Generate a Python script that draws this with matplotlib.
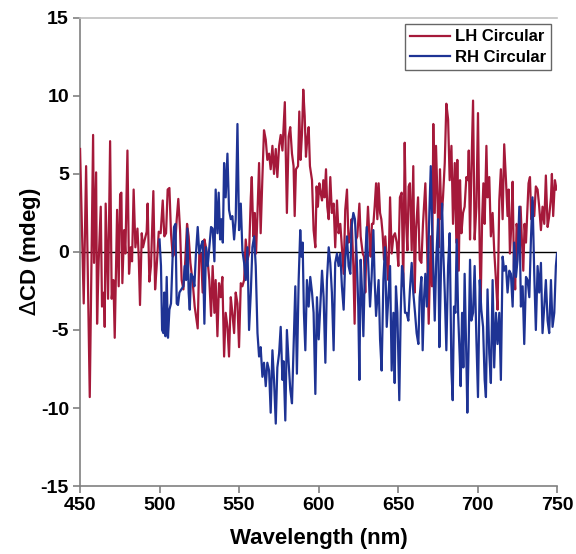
import matplotlib
matplotlib.use("Agg")
import matplotlib.pyplot as plt

plt.rcParams['font.family'] = ['Liberation Sans', 'DejaVu Sans']

lh_wl = [450.0, 452.3, 453.8, 456.1, 458.2, 458.8, 460.1, 460.7, 461.7, 463.0,
         463.8, 465.1, 465.5, 466.1, 467.6, 468.9, 469.9, 471.0, 471.8, 473.3,
         474.3, 475.2, 476.0, 476.6, 477.7, 478.5, 479.8, 480.8, 481.9, 482.7,
         483.7, 484.8, 486.1, 486.9, 487.7, 488.8, 489.6, 490.7, 491.9, 492.5,
         493.6, 494.6, 496.1, 497.2, 498.2, 499.5, 500.7, 502.0, 503.0, 504.1,
         505.1, 506.2, 507.2, 508.3, 509.5, 510.8, 511.8, 512.9, 513.9, 515.0,
         516.0, 517.3, 518.3, 519.4, 520.9, 522.1, 524.0, 525.0, 526.1, 527.1,
         528.2, 529.2, 530.3, 531.3, 532.4, 533.4, 534.5, 535.3, 536.4, 537.4,
         538.5, 539.5, 540.6, 541.6, 542.7, 543.7, 544.8, 545.8, 546.9, 547.9,
         549.0, 550.0, 551.1, 552.1, 553.2, 554.2, 555.3, 556.3, 557.4, 558.0,
         559.0, 559.9, 560.7, 561.6, 562.6, 563.6, 564.7, 565.7, 566.8, 567.8,
         568.9, 569.9, 571.0, 572.0, 573.1, 574.1, 575.2, 576.2, 577.3, 578.8,
         580.1, 581.2, 582.2, 583.3, 584.3, 585.0, 585.8, 587.1, 587.9, 588.7,
         589.6, 590.4, 591.3, 592.1, 592.9, 593.8, 594.6, 595.9, 596.9, 598.0,
         598.8, 599.6, 600.5, 601.3, 602.2, 603.0, 603.8, 604.7, 605.5, 606.4,
         607.4, 608.4, 609.5, 610.5, 611.6, 612.6, 613.7, 614.7, 615.8, 616.8,
         617.9, 618.9, 620.0, 620.8, 621.9, 622.7, 623.6, 624.4, 625.7, 626.5,
         627.8, 628.6, 629.4, 630.3, 631.1, 632.0, 632.8, 633.6, 634.5, 635.3,
         636.2, 637.0, 637.8, 638.7, 639.5, 640.3, 641.2, 642.0, 642.9, 643.9,
         645.0, 646.0, 647.1, 648.1, 649.2, 650.2, 651.2, 652.3, 653.3, 654.2,
         655.0, 655.9, 656.7, 657.5, 658.6, 659.6, 660.5, 661.3, 662.6, 663.6,
         664.7, 665.7, 667.2, 668.3, 669.3, 670.6, 671.4, 672.2, 673.1, 673.9,
         674.8, 675.6, 676.4, 677.3, 678.3, 679.4, 680.4, 681.5, 682.5, 683.6,
         684.6, 685.7, 686.7, 687.3, 688.2, 689.0, 689.9, 690.9, 691.9, 693.0,
         694.0, 694.5, 695.3, 696.1, 697.2, 698.2, 699.3, 700.3, 701.4, 702.0,
         702.9, 703.7, 704.5, 705.6, 706.3, 707.4, 708.4, 709.5, 710.5, 711.6,
         712.6, 713.7, 714.7, 715.8, 716.8, 717.9, 718.9, 719.6, 720.4, 721.2,
         722.1, 722.9, 723.7, 724.6, 725.4, 726.3, 727.1, 727.9, 728.8, 729.6,
         730.5, 731.3, 732.1, 733.0, 733.8, 734.6, 735.7, 736.7, 737.8, 738.8,
         739.9, 740.9, 742.0, 743.0, 744.1, 745.1, 746.2, 746.8, 747.6, 748.7,
         749.7]
lh_cd = [6.6, -3.3, 5.5, -9.3, 7.5, -0.7, 5.1, -4.6, -0.6, 2.9,
         -3.5, -2.6, -4.8, 3.1, -3.0, 7.1, -3.0, -1.8, -5.5, 2.7,
         -2.2, 3.7, 3.8, -2.0, 1.4, -0.1, 6.5, -1.4, 0.3, -0.6,
         4.0, 0.3, 1.5, -0.3, -3.4, 1.2, 0.3, 0.8, 1.3, 3.1,
         -1.9, -0.9, 3.9, -2.4, -0.9, 1.3, 1.2, 3.3, 1.0, 1.2,
         4.0, 4.1, 1.2, -0.3, -0.1, 2.1, 3.4, 1.4, -1.8, -2.4,
         -0.9, 1.8, 1.0, -0.7, -2.0, -3.5, -4.9, -0.1, -0.1, -2.6,
         0.8, 0.3, -0.6, -1.8, -4.1, -0.9, -3.9, -1.8, -5.4, -2.0,
         -2.9, -1.6, -6.7, -3.9, -4.8, -6.7, -2.9, -3.9, -5.2, -2.6,
         -3.3, -6.1, -2.0, -2.2, -1.8, 0.8, -0.5, -0.1, 3.5, 4.8,
         1.0, 2.5, -0.1, 2.5, 5.7, 1.2, 4.8, 7.8, 7.2, 5.9,
         6.3, 5.3, 6.8, 5.0, 6.6, 4.8, 6.8, 7.5, 6.5, 9.6,
         2.5, 7.4, 8.0, 6.3, 5.5, 2.3, 5.3, 5.5, 9.0, 5.9,
         7.6, 10.4, 8.7, 6.1, 7.2, 8.0, 5.5, 4.6, 1.4, 0.3,
         4.2, 2.9, 4.4, 3.8, 3.3, 4.6, 3.5, 5.3, 2.9, 2.1,
         4.8, 2.5, 3.1, 0.3, 3.3, 1.2, 1.8, 0.3, -1.4, 2.7,
         4.0, 0.6, 1.0, 2.1, -0.9, -4.6, 0.8, 1.0, 3.1, 1.0,
         -0.1, -0.3, -2.6, 1.0, 2.9, 1.0, -0.3, 1.8, 1.8, 2.9,
         4.4, 2.1, 4.4, 2.5, 2.1, 1.2, -0.5, 1.0, -0.5, -1.8,
         3.5, -0.1, 1.0, 1.2, 0.6, -0.9, 3.5, 3.8, -2.2, 7.0,
         2.1, 0.1, 4.2, 4.4, 0.1, 5.5, -2.6, 1.4, 3.5, -0.5,
         -0.7, 1.8, 4.4, 0.3, -4.6, 1.0, -2.2, 8.2, 2.5, 6.8,
         3.5, 0.3, 5.3, 2.1, 3.5, 5.7, 9.5, 8.5, 4.6, 6.8,
         1.8, 5.7, 0.6, 5.9, -1.2, 4.6, 1.2, 2.5, 2.9, 4.8,
         4.6, 6.5, 0.8, 5.0, 9.7, 0.8, 2.9, 8.9, -0.1, -3.3,
         2.1, 4.4, 1.8, 6.8, 3.5, 4.8, 1.0, 2.5, 0.1, -1.8,
         -3.7, 3.3, 5.3, 2.1, 6.9, 4.6, 2.3, 4.0, -0.1, 1.6,
         4.5, -0.9, -2.4, 1.8, 1.2, 0.3, 2.9, 0.8, -1.2, 1.8,
         0.6, 2.5, 4.4, 4.8, 2.1, 3.3, 2.3, 4.2, 4.0, 2.9,
         1.4, 2.9, 1.8, 4.9, 1.6, 2.3, 3.5, 5.0, 2.3, 4.6,
         4.0]

rh_wl = [500.0, 500.9, 501.6, 502.4, 503.0, 503.7, 504.5, 505.3, 506.2, 507.2,
         508.3, 509.1, 510.0, 510.8, 511.6, 512.5, 513.7, 515.0, 515.8, 516.7,
         517.5, 518.3, 519.0, 519.8, 520.9, 521.9, 522.9, 524.0, 525.0, 526.1,
         527.1, 528.2, 529.2, 530.3, 531.3, 532.4, 533.4, 534.5, 535.3, 536.4,
         537.2, 538.1, 538.9, 539.8, 540.6, 541.6, 542.7, 543.7, 544.8, 545.8,
         546.9, 547.9, 549.0, 550.0, 551.1, 552.1, 553.2, 554.2, 555.3, 556.3,
         557.4, 558.4, 559.5, 560.5, 561.6, 562.6, 563.6, 564.7, 565.7, 566.8,
         567.8, 568.9, 569.9, 571.0, 572.0, 573.1, 574.1, 575.2, 576.2, 577.3,
         578.0, 579.1, 580.1, 581.2, 582.2, 583.3, 584.3, 585.4, 586.4, 587.5,
         588.5, 589.2, 590.0, 590.8, 591.7, 592.7, 593.8, 594.8, 595.9, 596.9,
         598.0, 599.0, 600.1, 601.1, 602.2, 603.2, 604.3, 605.3, 606.4, 607.4,
         608.4, 609.5, 610.5, 611.6, 612.6, 613.7, 614.7, 615.8, 616.8, 617.9,
         618.9, 620.0, 620.8, 621.9, 622.9, 624.0, 625.0, 625.7, 626.5, 627.3,
         628.2, 629.2, 630.3, 631.3, 632.4, 633.4, 634.5, 635.3, 636.2, 637.0,
         637.8, 638.7, 639.7, 640.8, 641.8, 642.9, 643.9, 645.0, 646.0, 647.1,
         647.9, 648.7, 649.6, 650.8, 651.7, 652.5, 653.3, 654.4, 655.4, 656.5,
         657.5, 658.6, 659.6, 660.7, 661.7, 662.8, 663.6, 664.7, 665.5, 666.4,
         667.2, 668.1, 668.9, 669.7, 670.6, 671.4, 672.2, 673.1, 674.1, 675.2,
         676.0, 676.9, 677.7, 678.5, 679.4, 680.4, 681.5, 682.5, 683.6, 684.4,
         685.2, 686.1, 686.9, 687.8, 688.8, 689.4, 690.3, 691.1, 691.9, 693.0,
         693.6, 694.5, 695.3, 696.1, 697.2, 698.2, 699.3, 700.3, 701.4, 702.4,
         703.5, 704.5, 705.3, 706.3, 707.4, 708.4, 709.5, 710.5, 711.6, 712.6,
         713.7, 714.7, 715.8, 716.8, 717.9, 718.9, 720.0, 721.0, 722.1, 723.1,
         724.2, 725.2, 726.3, 727.3, 728.4, 729.4, 730.5, 731.5, 732.6, 733.6,
         734.6, 735.7, 736.7, 737.8, 738.8, 739.9, 740.9, 742.0, 743.0, 744.1,
         745.1, 746.2, 747.2, 748.3, 749.3, 750.0]
rh_cd = [0.8, -0.9, -5.0, -5.2, -2.6, -5.4, -1.6, -5.5, -3.7, -3.3,
         -0.1, 1.6, 1.8, -3.3, -3.4, -2.6, -2.4, -2.2, -0.9, -1.8,
         1.5, -2.6, -3.7, -1.4, -1.6, -2.2, -0.1, 1.6, -0.1, 0.4,
         0.7, -4.6, 0.3, -0.9, 0.3, 1.6, 1.5, -0.6, 4.0, 1.2,
         3.8, 0.8, 2.1, 0.6, 5.7, 3.5, 6.3, 2.7, 2.1, 2.3,
         0.8, 2.1, 8.2, 1.4, 3.1, 0.1, -0.7, -1.8, 0.3, -5.0,
         -2.6, 0.3, 1.0, -0.9, -5.2, -6.7, -6.1, -8.0, -7.1, -8.6,
         -7.1, -7.6, -10.3, -6.3, -8.2, -11.0, -7.4, -6.5, -4.8, -8.2,
         -7.0, -10.8, -5.0, -7.1, -8.8, -9.7, -6.1, -2.2, -7.8, -1.8,
         1.4, -0.3, 0.6, -3.9, -6.3, -1.8, -3.5, -1.6, -2.6, -3.9,
         -9.1, -2.9, -5.6, -3.5, -1.2, -2.9, -7.1, -1.8, 0.3, -0.7,
         -2.6, -6.3, -0.7, -0.1, -0.9, -0.1, -2.2, -3.7, -0.5, 1.0,
         -0.9, -1.4, 1.6, 2.5, 2.1, -0.3, -3.5, -8.2, -0.5, -2.4,
         -5.4, -0.9, 1.6, -0.9, -3.5, -1.6, 1.4, -1.8, -4.1, -2.9,
         -1.8, -5.6, -7.6, -1.8, 0.3, -4.8, -2.9, -0.9, -7.6, -3.9,
         -8.4, -2.2, -3.9, -9.5, -3.9, -0.9, -1.4, -3.9, -3.9, -4.4,
         -2.4, -0.7, -2.6, -3.9, -5.2, -5.9, -2.9, -1.6, -6.3, -2.9,
         -1.4, -3.5, -0.9, 2.5, 5.5, 1.8, -0.9, -4.4, -0.3, 2.1,
         -6.1, -1.8, 3.1, -0.1, -2.6, -6.3, -0.9, 1.2, -7.6, -9.5,
         -3.5, -3.9, 0.8, -3.9, -6.7, -8.6, -3.9, -7.4, -1.4, -6.9,
         -10.3, -5.6, -0.5, -4.4, -3.9, -0.9, -5.6, -9.3, -1.8, -3.7,
         -4.8, -8.2, -9.3, -2.4, -6.5, -8.4, -1.8, -7.4, -3.9, -5.9,
         -3.9, -8.2, -0.3, -1.2, -0.9, -2.6, -1.2, -1.4, -3.5, 0.6,
         -1.6, -0.5, 2.9, -3.5, -2.2, -5.9, -1.6, -1.8, -2.9, 0.8,
         3.5, -1.4, -5.0, -0.9, -2.6, -0.7, -5.2, -3.5, -1.8, -4.4,
         -5.2, -1.8, -4.8, -3.9, -0.9, -0.1]

x_ticks = [450, 500, 550, 600, 650, 700, 750]
y_ticks = [-15, -10, -5, 0, 5, 10, 15]

lh_color = '#A5193A'
rh_color = '#1E3394'

fig = plt.figure(figsize=(5.76, 5.54), dpi=100)
ax = fig.add_axes([0.139, 0.1227, 0.828, 0.845])

ax.plot(lh_wl, lh_cd, color=lh_color, lw=1.6, label='LH Circular', zorder=3)
ax.plot(rh_wl, rh_cd, color=rh_color, lw=1.6, label='RH Circular', zorder=3)
ax.axhline(0, color='black', lw=1.0, zorder=2)

ax.set_xlim(450, 750)
ax.set_ylim(-15, 15)
ax.set_xticks(x_ticks)
ax.set_yticks(y_ticks)
ax.set_xticklabels([str(v) for v in x_ticks], fontsize=14, fontweight='bold')
ax.set_yticklabels([str(v) for v in y_ticks], fontsize=14, fontweight='bold')
ax.tick_params(direction='out', length=5, width=1.2, color='#808080', pad=3)

ax.spines['right'].set_visible(False)
ax.spines['top'].set_color('#C0C0C0')
ax.spines['top'].set_linewidth(1.2)
for s in ['left', 'bottom']:
    ax.spines[s].set_color('#808080')
    ax.spines[s].set_linewidth(1.2)

ax.set_xlabel('Wavelength (nm)', fontsize=16, fontweight='bold', labelpad=10)
ax.set_ylabel(r'$\Delta$CD (mdeg)', fontsize=16, fontweight='bold', labelpad=-2)

leg = ax.legend(loc='upper right', bbox_to_anchor=(0.988, 0.986),
                prop={'weight': 'bold', 'size': 12}, frameon=True, fancybox=False,
                handlelength=2.4, borderpad=0.3, labelspacing=0.35, handletextpad=0.3,
                borderaxespad=0.0)
leg.get_frame().set_edgecolor('#404040')
leg.get_frame().set_linewidth(1.0)

fig.savefig('out.png', dpi=100)
